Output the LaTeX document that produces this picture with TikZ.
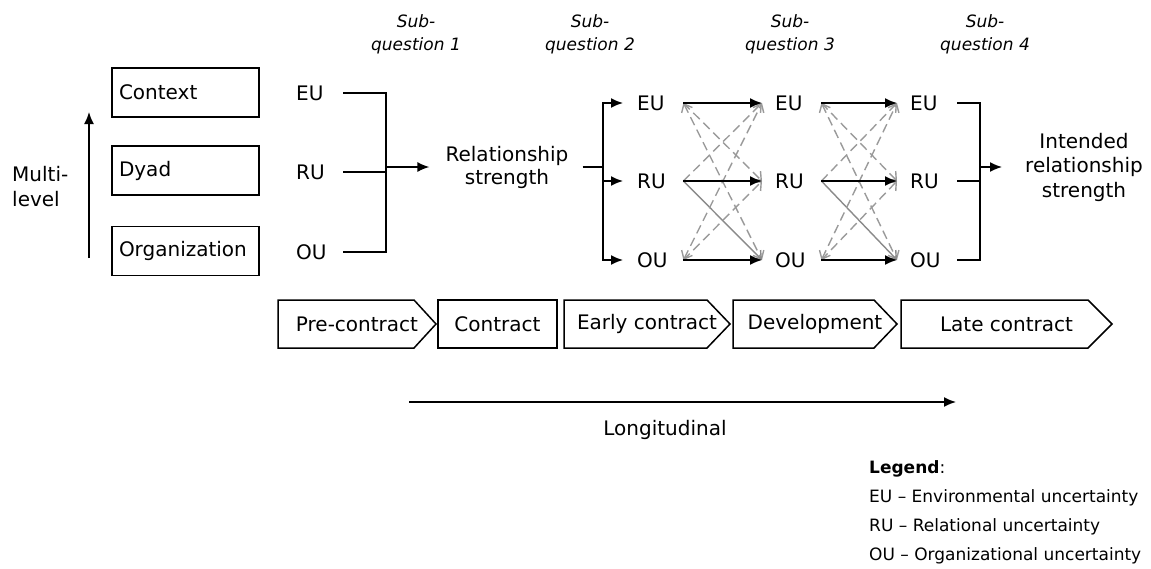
\documentclass[tikz,border=0pt]{standalone}
\usepackage{fontspec}
\setmainfont{DejaVu Sans}
\usetikzlibrary{arrows.meta,positioning}
\definecolor{crossgray}{HTML}{9A9A9A}
\definecolor{solidgray}{HTML}{8A8A8A}

\begin{document}
\begin{tikzpicture}[x=1pt,y=-1pt,
  lbl/.style={font=\fontsize{20}{25}\selectfont,inner sep=0pt},
  unc/.style={lbl,anchor=west,text width=30pt,align=left},
  lvlbox/.style={lbl,draw,line width=1.5pt,text width=133pt,align=left,
                 inner xsep=7pt,minimum height=49pt},
  sq/.style={font=\fontsize{17}{23}\selectfont\itshape,align=center,inner sep=0pt},
  leg/.style={font=\fontsize{17}{20}\selectfont,anchor=west,inner sep=0pt},
  link/.style={line width=1.6pt},
  tip/.style={link,-{Latex[length=12pt,width=10pt]}},
  dline/.style={line width=1.4pt,crossgray,dash pattern=on 9pt off 5pt},
  gline/.style={line width=1.4pt,solidgray},
  gtip/.style={-{Straight Barb[length=7pt,width=12pt]}},
  gtwo/.style={{Straight Barb[length=7pt,width=12pt]}-{Straight Barb[length=7pt,width=12pt]}},
  phase/.style={draw,line width=1.5pt}]

\useasboundingbox (0,0) rectangle (1151,568);

% levels
\node[lvlbox] (ctx) at (185.5,92.5) {Context};
\node[lvlbox] (dyad) at (185.5,170.5) {Dyad};
\node[lvlbox] (org) at (185.5,251) {Organization};
\node[lbl,align=left,anchor=west] (ml) at (12,187) {Multi-\\level};
\coordinate (mlb) at (89,258);
\coordinate (mlt) at (89,112);
\draw[tip] (mlb) -- (mlt);

% sub-questions
\foreach \i/\x in {1/416,2/590,3/790,4/985}
  \node[sq] (sq\i) at (\x,34) {Sub-\\question \i};

% uncertainty columns
\foreach \u/\t/\y in {eu/EU/93,ru/RU/172,ou/OU/252}
  \node[unc] (\u0) at (296,\y) {\t};
\foreach \c/\x in {1/637,2/775,3/910}
  \foreach \u/\t/\y in {eu/EU/103,ru/RU/181,ou/OU/260}
    \node[unc] (\u\c) at (\x,\y) {\t};

\node[lbl,align=center,font=\fontsize{20}{23}\selectfont] (rel) at (507,167)
  {Relationship\\strength};
\node[lbl,align=center,font=\fontsize{20}{24.5}\selectfont] (intd) at (1084,167)
  {Intended\\relationship\\strength};

% first bracket
\coordinate (j0) at (386,167);
\draw[link] ([xshift=17pt]eu0.east) -| (j0);
\draw[link] ([xshift=17pt]ou0.east) -| (j0);
\draw[link] ([xshift=17pt]ru0.east) -- (ru0 -| j0);
\draw[tip,shorten >=16pt] (j0) -- (j0 -| rel.west);

% split into column 1
\coordinate (j1) at (603,167);
\draw[link] ([xshift=14pt]rel.east) -- (j1);
\draw[tip] (j1) |- ([xshift=-14pt]eu1.west);
\draw[tip] (j1) |- ([xshift=-14pt]ou1.west);
\draw[tip] (ru1 -| j1) -- ([xshift=-14pt]ru1.west);

% links between columns
\foreach \a/\b in {1/2,2/3}{
  \draw[dline,gtip] ([xshift=16pt]eu\a.east) -- ([xshift=-13pt]ru\b.west);
  \draw[dline,gtwo] ([xshift=16pt]eu\a.east) -- ([xshift=-13pt]ou\b.west);
  \draw[dline,gtip] ([xshift=16pt]ru\a.east) -- ([xshift=-13pt]eu\b.west);
  \draw[gline,gtip] ([xshift=16pt]ru\a.east) -- ([xshift=-13pt]ou\b.west);
  \draw[dline,gtip] ([xshift=16pt]ou\a.east) -- ([xshift=-13pt]ru\b.west);
  \draw[dline,gtwo] ([xshift=16pt]ou\a.east) -- ([xshift=-13pt]eu\b.west);
  \foreach \u in {eu,ru,ou}
    \draw[tip] ([xshift=16pt]\u\a.east) -- ([xshift=-13pt]\u\b.west);
}

% last bracket
\coordinate (j3) at (980,167);
\draw[link] ([xshift=17pt]eu3.east) -| (j3);
\draw[link] ([xshift=17pt]ou3.east) -| (j3);
\draw[link] ([xshift=17pt]ru3.east) -- (ru3 -| j3);
\draw[tip,shorten >=23pt] (j3) -- (j3 -| intd.west);

% phases
\foreach \nm/\xl/\xp/\xt/\txt in {pre/278/414/436/Pre-contract,
    con/438/557/557/Contract, early/564/707/730/Early contract,
    dev/733/874/897/Development, late/901/1088/1112/Late contract}{
  \draw[phase] (\xl,300) -- (\xp,300) -- (\xt,324) -- (\xp,348) -- (\xl,348) -- cycle;
  \node[lbl] (\nm) at ({(\xl+\xt)/2},324) {\txt};
}

% time axis
\coordinate (ls) at (409,402);
\coordinate (le) at (956,402);
\draw[tip] (ls) -- (le);
\node[lbl] (longi) at (665,430) {Longitudinal};

% legend
\node[leg] (leg0) at (869,469) {\textbf{Legend}:};
\node[leg] (leg1) at (869,498) {EU -- Environmental uncertainty};
\node[leg] (leg2) at (869,527) {RU -- Relational uncertainty};
\node[leg] (leg3) at (869,556) {OU -- Organizational uncertainty};
\end{tikzpicture}
\end{document}
